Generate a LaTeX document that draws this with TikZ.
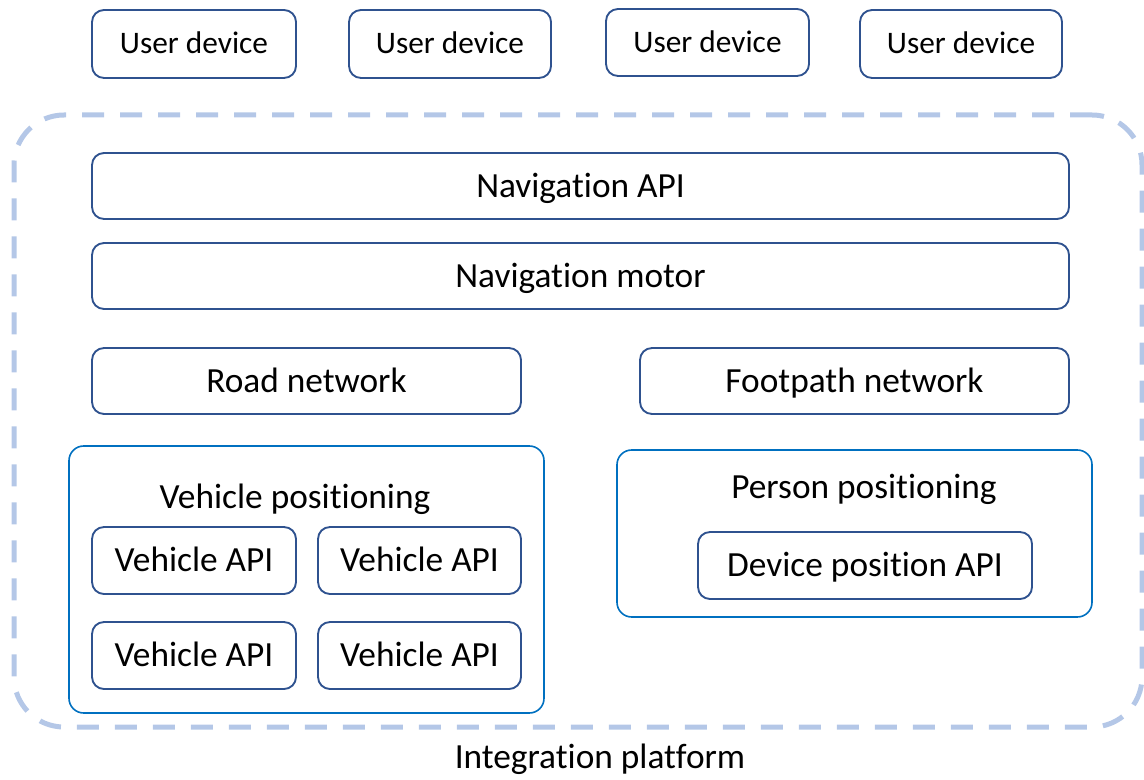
\documentclass[tikz,border=0pt]{standalone}
\usepackage{fontspec}
\setmainfont{Carlito}[Ligatures=NoCommon]
\usepackage{xcolor}
\definecolor{boxblue}{RGB}{47,82,143}
\definecolor{groupblue}{RGB}{0,112,192}
\definecolor{platblue}{RGB}{180,199,231}
\tikzset{
  unit/.style={draw=boxblue, line width=1.4pt, rounded corners=9pt, inner sep=0pt,
    text height=17pt, text depth=0pt, font=\fontsize{26.5}{30}\selectfont},
  small/.style={text height=15pt, font=\fontsize{23.5}{28}\selectfont},
  group/.style={draw=groupblue, line width=1.2pt, rounded corners=11pt, inner sep=0pt},
  label/.style={inner sep=0pt, text height=17pt, text depth=0pt, font=\fontsize{26.5}{30}\selectfont}
}

\begin{document}
\begin{tikzpicture}[x=0.75pt,y=0.75pt,yscale=-1,xscale=1]
\useasboundingbox (0,0) rectangle (1144,780);

%Dashed platform
\node [draw=platblue, line width=3.75pt, dash pattern={on 16.5pt off 12pt}, rounded corners=37.5pt,
  minimum width=846pt, minimum height=459pt, inner sep=0pt] (platform) at (578,421) {};

%User devices
\node [unit, small, minimum width=153pt, minimum height=51pt] (user1) at (194,44) {User device};
\node [unit, small, minimum width=151.5pt, minimum height=51pt] (user2) at (450,44) {User device};
\node [unit, small, minimum width=152.25pt, minimum height=50.25pt] (user3) at (707.5,42.5) {User device};
\node [unit, small, minimum width=151.5pt, minimum height=51pt] (user4) at (961,44) {User device};

%Navigation layers
\node [unit, minimum width=732.75pt, minimum height=49.5pt] (navapi) at (580.5,186) {Navigation API};
\node [unit, minimum width=732.75pt, minimum height=49.5pt] (navmotor) at (580.5,276) {Navigation motor};

%Networks
\node [unit, minimum width=321.75pt, minimum height=49.5pt] (road) at (306.5,381) {Road network};
\node [unit, minimum width=321.75pt, minimum height=49.5pt] (footpath) at (854.5,381) {Footpath network};

%Vehicle positioning
\node [group, minimum width=356.25pt, minimum height=200.25pt] (vehiclegroup) at (306.5,579.5) {};
\node [label] (vehiclelabel) at (295,497) {Vehicle positioning};
\node [unit, minimum width=153pt, minimum height=50.25pt] (vapi1) at (194,560.5) {Vehicle API};
\node [unit, minimum width=152.25pt, minimum height=50.25pt] (vapi2) at (419.5,560.5) {Vehicle API};
\node [unit, minimum width=153pt, minimum height=50.25pt] (vapi3) at (194,655.5) {Vehicle API};
\node [unit, minimum width=152.25pt, minimum height=50.25pt] (vapi4) at (419.5,655.5) {Vehicle API};

%Person positioning
\node [group, minimum width=356.25pt, minimum height=125.25pt] (persongroup) at (854.5,533.5) {};
\node [label] (personlabel) at (864,487) {Person positioning};
\node [unit, minimum width=250.5pt, minimum height=50.25pt] (devapi) at (865,565.5) {Device position API};

% Text Node
\node [label] (platlabel) at (600,757) {Integration platform};

\end{tikzpicture}
\end{document}
